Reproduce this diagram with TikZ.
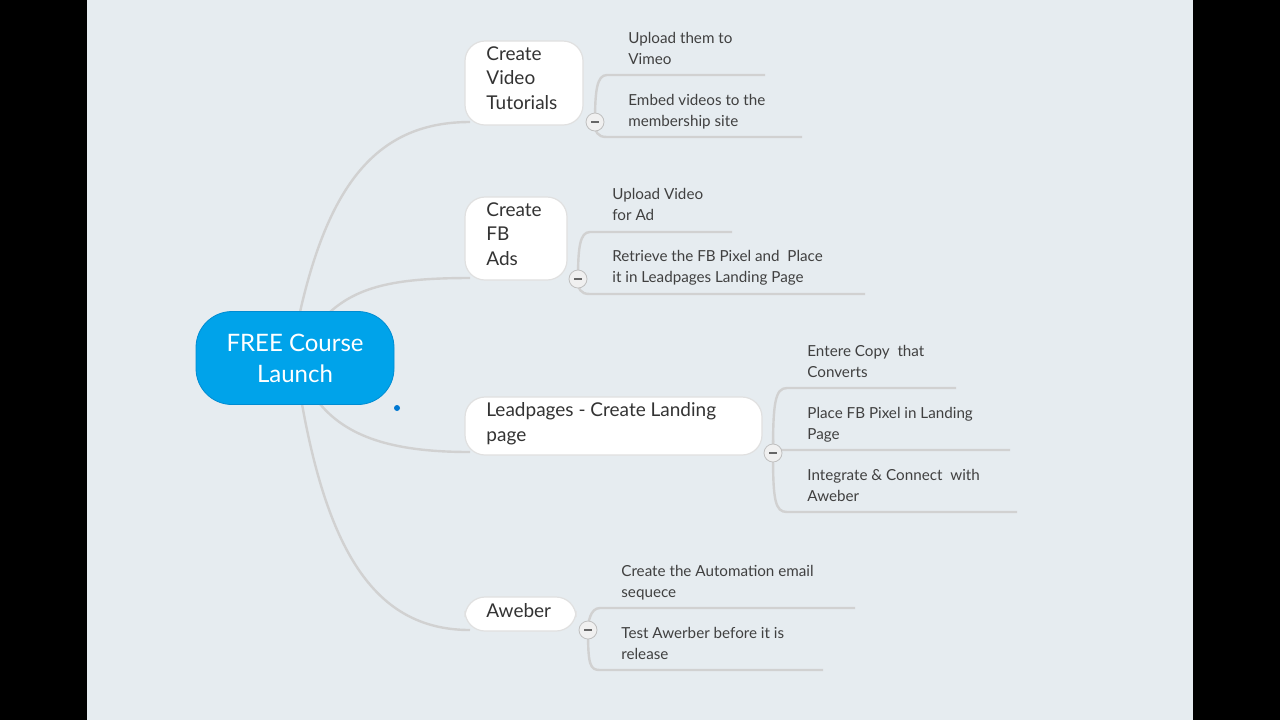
\documentclass[tikz,border=0pt]{standalone}
\usepackage{fontspec}
\setmainfont{Lato}
\definecolor{bgc}{RGB}{230,236,240}
\definecolor{rootc}{RGB}{0,163,234}
\definecolor{rootd}{RGB}{0,140,210}
\definecolor{dotc}{RGB}{0,120,210}
\begin{document}
\begin{tikzpicture}[x=0.5pt,y=-0.5pt,
  conn/.style={draw=black!18,line width=1.2pt},
  branch/.style={draw=black!12,fill=white,rounded corners=10pt,line width=0.6pt},
  leaf/.style={font=\fontsize{7.6}{10.3}\selectfont,text=black!75,align=left,anchor=north west,inner sep=0pt},
  btext/.style={font=\fontsize{9.5}{12.4}\selectfont,text=black!80,align=left,anchor=north west,inner sep=0pt},
  minus/.style={circle,draw=black!25,fill=black!6,minimum size=9pt,inner sep=0pt}]
\useasboundingbox (0,0) rectangle (1280,720);
\fill[black] (0,0) rectangle (1280,720);
\fill[bgc] (87,0) rectangle (1193,720);
\draw[conn] (300,312) .. controls (330,180) and (380,122) .. (470,122);
\draw[conn] (330,312) .. controls (360,285) and (400,278) .. (470,278);
\draw[conn] (320,404) .. controls (350,440) and (400,452) .. (470,452);
\draw[conn] (302,404) .. controls (330,560) and (380,630) .. (470,630);
\node[fill=rootc,draw=rootd,rounded corners=18pt,minimum width=99pt,minimum height=46.5pt,text=white,font=\fontsize{12}{15.5}\selectfont,align=center] (root) at (295,358) {FREE Course\\Launch};
\fill[dotc] (397,408) circle (3);
\path[branch] (465,41) rectangle (583,125);
\node[btext] (b1) at (486,46) {Create\\Video\\Tutorials};
\path[branch] (465,197) rectangle (567,280);
\node[btext] (b2) at (486,202) {Create\\FB\\Ads};
\path[branch] (465,397) rectangle (762,455);
\node[btext] (b3) at (486,402) {Leadpages - Create Landing\\page};
\path[branch] (465,597) rectangle (576,631);
\node[btext] (b4) at (486,603) {Aweber};
\foreach \cx/\cy/\ya/\xa/\yb/\xb in {595/122/75/765/137/802, 578/279/232/732/294/865, 588/630/608/855/670/823}{
  \draw[conn] (\cx,\cy) .. controls (\cx,\ya+15) and (\cx+2,\ya) .. (\cx+12,\ya) -- (\xa,\ya);
  \draw[conn] (\cx,\cy) .. controls (\cx,\yb-5) and (\cx+2,\yb) .. (\cx+12,\yb) -- (\xb,\yb);
}
\draw[conn] (773,453) .. controls (773,403) and (775,388) .. (787,388) -- (956,388);
\draw[conn] (773,453) -- (773,440) .. controls (773,450) and (775,450) .. (787,450) -- (1010,450);
\draw[conn] (773,453) .. controls (773,500) and (775,512) .. (787,512) -- (1017,512);
\foreach \cx/\cy/\n in {595/122/m1,578/279/m2,773/453/m3,588/630/m4}{
  \node[minus] (\n) at (\cx,\cy) {};
  \draw[black!60,line width=0.6pt] (\cx-4,\cy) -- (\cx+4,\cy);
}
\node[leaf] (l1) at (628,32) {Upload them to\\Vimeo};
\node[leaf] (l2) at (628,94) {Embed videos to the\\membership site};
\node[leaf] (l3) at (612,188) {Upload Video\\for Ad};
\node[leaf] (l4) at (612,250) {Retrieve the FB Pixel and~ Place\\it in Leadpages Landing Page};
\node[leaf] (l5) at (807,345) {Entere Copy~ that\\Converts};
\node[leaf] (l6) at (807,407) {Place FB Pixel in Landing\\Page};
\node[leaf] (l7) at (807,469) {Integrate \& Connect~ with\\Aweber};
\node[leaf] (l8) at (621,565) {Create the Automation email\\sequece};
\node[leaf] (l9) at (621,627) {Test Awerber before it is\\release};
\end{tikzpicture}
\end{document}
